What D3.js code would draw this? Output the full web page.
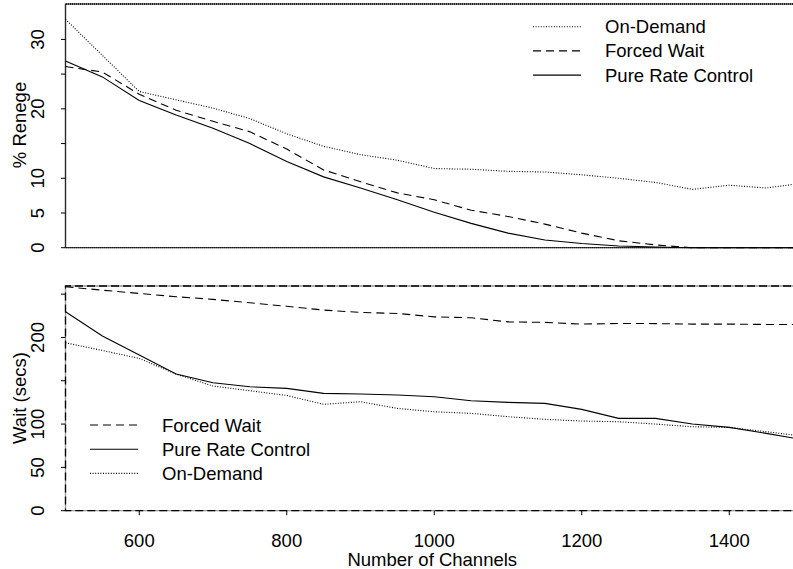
<!DOCTYPE html>
<html>
<head>
<meta charset="utf-8">
<script src="https://cdn.jsdelivr.net/npm/d3@7"></script>
<style>
  body { margin: 0; background: #fff; }
  svg text { font-family: "Liberation Sans", Arial, sans-serif; fill: #000; }
</style>
</head>
<body>
<div id="chart"></div>
<script>
// number of channels (x for both panels)
const channels = [500, 550, 600, 650, 700, 750, 800, 850, 900, 950, 1000, 1050, 1100, 1150, 1200, 1250, 1300, 1350, 1400, 1450, 1500];

// top panel: % renege
const renegeOnDemand = [32.9, 27.7, 22.5, 21.3, 20.1, 18.6, 16.4, 14.6, 13.4, 12.6, 11.4, 11.3, 11.0, 10.9, 10.5, 10.0, 9.4, 8.4, 9.0, 8.6, 9.3];
const renegeForced   = [26.1, 25.3, 22.1, 19.8, 18.2, 16.7, 14.2, 11.2, 9.5, 7.9, 6.9, 5.4, 4.5, 3.4, 2.1, 1.0, 0.4, 0, 0, 0, 0];
const renegePure     = [26.9, 24.6, 21.2, 19.1, 17.2, 15.0, 12.4, 10.2, 8.6, 6.9, 5.1, 3.5, 2.1, 1.1, 0.6, 0.25, 0.1, 0, 0, 0, 0];

// bottom panel: wait (secs)
const waitForced   = [258.5, 254.6, 250.8, 247, 244, 240, 236, 231.6, 228.9, 227.7, 223.8, 222.7, 218, 217.4, 215.4, 216.2, 216, 215.4, 215.4, 215, 215];
const waitPure     = [229.6, 201.6, 179.7, 157.7, 147.7, 143.1, 141.2, 135.5, 134.7, 133.5, 131.5, 127, 125, 123.9, 117, 106.6, 106.6, 100, 96.2, 89.3, 82];
const waitOnDemand = [193.8, 185, 175.8, 157.7, 143.9, 138.5, 133, 122.8, 125.8, 118.1, 114.2, 112.4, 108.5, 105.5, 103.5, 102.7, 100, 96.9, 96.2, 91.2, 86];

// axis ticks and labels
const xTicks = [600, 800, 1000, 1200, 1400];
const renegeTicks = [0, 5, 10, 15, 20, 25, 30];
const renegeLabels = [0, 5, 10, 20, 30];
const waitTicks = [0, 50, 100, 150, 200, 250];
const waitLabels = [0, 50, 100, 200];

const topLegend = ["On-Demand", "Forced Wait", "Pure Rate Control"];
const bottomLegend = ["Forced Wait", "Pure Rate Control", "On-Demand"];

const width = 793, height = 569;
const fontSize = "18.5px";
const dash = { "On-Demand": "1,1.6", "Forced Wait": "8,5", "Pure Rate Control": null };

const svg = d3.select("#chart").append("svg")
    .attr("width", width)
    .attr("height", height);

const x = d3.scaleLinear().domain([500, 1500]).range([65.5, 803]);
const yTop = d3.scaleLinear().domain([0, 35.1]).range([247.7, 4]);
const yBot = d3.scaleLinear().domain([0, 259.4]).range([510.7, 286]);

function drawPanel(y, series, ticks, labels, title, titleY, frameStyle) {
    const g = svg.append("g");
    const [y0, y1] = y.range();

    // frame
    const frame = [[x.range()[1], y1], [x(500), y1], [x(500), y0], [x.range()[1], y0]];
    const fl = d3.line();
    if (frameStyle === "dashed") {
        g.append("path").attr("d", fl(frame)).attr("fill", "none")
            .attr("stroke", "#999").attr("stroke-width", 1.3);
        g.append("path").attr("d", fl(frame)).attr("fill", "none")
            .attr("stroke", "#000").attr("stroke-width", 1.3).attr("stroke-dasharray", "8,4");
    } else {
        g.append("path").attr("d", fl(frame)).attr("fill", "none")
            .attr("stroke", "#555").attr("stroke-width", 1.3);
        g.append("path").attr("d", fl(frame)).attr("fill", "none")
            .attr("stroke", "#000").attr("stroke-width", 1.3).attr("stroke-dasharray", "1,1");
    }

    // y ticks
    g.selectAll(".ytick").data(ticks).join("line")
        .attr("x1", x(500) - 4.5).attr("x2", x(500))
        .attr("y1", d => y(d)).attr("y2", d => y(d))
        .attr("stroke", "#000");
    g.selectAll(".ylab").data(labels).join("text")
        .attr("transform", d => `translate(44,${y(d)}) rotate(-90)`)
        .attr("text-anchor", "middle")
        .attr("font-size", fontSize)
        .text(d => d);
    g.append("text")
        .attr("transform", `translate(26,${titleY}) rotate(-90)`)
        .attr("text-anchor", "middle")
        .attr("font-size", fontSize)
        .text(title);

    const line = d3.line().x((d, i) => x(channels[i])).y(d => y(d));
    series.forEach(s => {
        g.append("path")
            .attr("d", line(s.values))
            .attr("fill", "none")
            .attr("stroke", "#000")
            .attr("stroke-width", 1.1)
            .attr("stroke-dasharray", dash[s.name]);
    });
    return g;
}

drawPanel(yTop, [
    { name: "On-Demand", values: renegeOnDemand },
    { name: "Forced Wait", values: renegeForced },
    { name: "Pure Rate Control", values: renegePure }
], renegeTicks, renegeLabels, "% Renege", 125, "dotted");

const gBot = drawPanel(yBot, [
    { name: "Forced Wait", values: waitForced },
    { name: "Pure Rate Control", values: waitPure },
    { name: "On-Demand", values: waitOnDemand }
], waitTicks, waitLabels, "Wait (secs)", 398, "dashed");

// x axis (bottom panel only)
gBot.selectAll(".xtick").data(xTicks).join("line")
    .attr("x1", d => x(d)).attr("x2", d => x(d))
    .attr("y1", yBot(0)).attr("y2", yBot(0) + 4.5)
    .attr("stroke", "#000");
gBot.selectAll(".xlab").data(xTicks).join("text")
    .attr("x", d => x(d)).attr("y", 547)
    .attr("text-anchor", "middle")
    .attr("font-size", fontSize)
    .text(d => d);
svg.append("text")
    .attr("x", x(1000) - 2).attr("y", 566)
    .attr("text-anchor", "middle")
    .attr("font-size", fontSize)
    .text("Number of Channels");

// legends
function drawLegend(names, lx, ty, step) {
    const lg = svg.append("g");
    names.forEach((n, i) => {
        const yy = ty + i * step;
        lg.append("line")
            .attr("x1", lx).attr("x2", lx + 48)
            .attr("y1", yy).attr("y2", yy)
            .attr("stroke", "#000").attr("stroke-width", 1.1)
            .attr("stroke-dasharray", dash[n]);
        lg.append("text")
            .attr("x", lx + 72).attr("y", yy + 6.5)
            .attr("font-size", fontSize)
            .text(n);
    });
}
drawLegend(topLegend, 533, 26.7, 24.2);
drawLegend(bottomLegend, 90, 425, 24.2);
</script>
</body>
</html>
